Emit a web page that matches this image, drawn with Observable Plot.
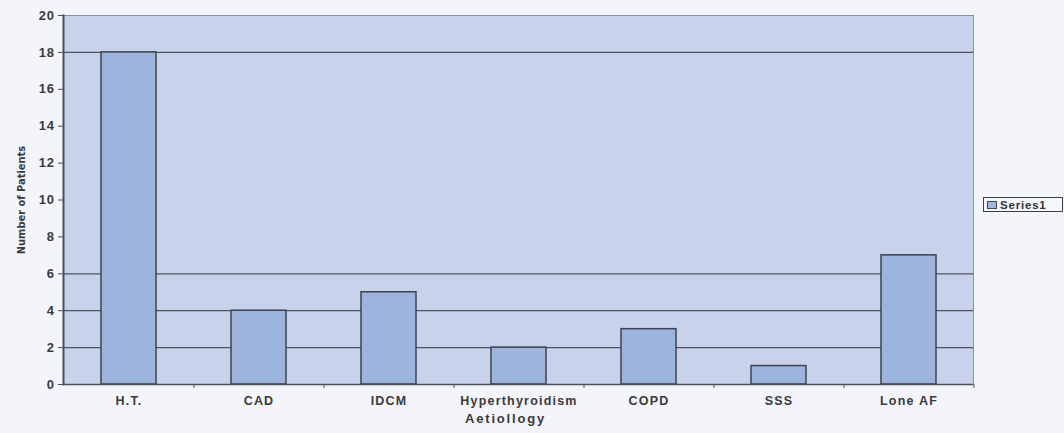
<!DOCTYPE html>
<html>
<head>
<meta charset="utf-8">
<script src="https://cdn.jsdelivr.net/npm/d3@7"></script>
<script src="https://cdn.jsdelivr.net/npm/@observablehq/plot@0.6"></script>
<style>
  html, body { margin: 0; padding: 0; background: #f3f5fa; }
  #wrap { position: relative; width: 1064px; height: 433px; }
  #legend {
    position: absolute; left: 983px; top: 197px; width: 75px; height: 13px;
    border: 1px solid #3a3f48; background: #f6f7fb;
    font: bold 11.5px "Liberation Sans", Arial, sans-serif; letter-spacing: 0.8px; color: #333;
    display: flex; align-items: center; gap: 3px; padding-left: 3px; box-sizing: content-box;
  }
  #legend .sw { width: 8px; height: 6px; background: #9fb5dc; border: 1px solid #3f4754; }
</style>
</head>
<body>
<div id="wrap"></div>
<script>
const categories = ["H.T.", "CAD", "IDCM", "Hyperthyroidism", "COPD", "SSS", "Lone AF"];
const patients = [18, 4, 5, 2, 3, 1, 7];
const yTicks = [0, 2, 4, 6, 8, 10, 12, 14, 16, 18, 20];
const gridValues = [2, 4, 6, 18];
const seriesName = "Series1";

const rows = categories.map((c, i) => ({category: c, value: patients[i]}));

const chart = Plot.plot({
  width: 1064,
  height: 433,
  marginLeft: 63,
  marginRight: 91,
  marginTop: 15,
  marginBottom: 49,
  style: {background: "transparent", color: "#3a3a3a", fontFamily: "'Liberation Sans', Arial, sans-serif"},
  x: {domain: categories, paddingInner: 0.58, paddingOuter: 0.29, label: null},
  y: {domain: [0, 20], label: null},
  marks: [
    Plot.frame({fill: "#c8d2ea", stroke: "#8a90a0"}),
    Plot.ruleY(gridValues, {stroke: "#4f5560", strokeWidth: 1.2}),
    Plot.barY(rows, {x: "category", y: "value", fill: "#9db4dc", stroke: "#3c4350", strokeWidth: 1.5}),
    Plot.ruleY([0], {stroke: "#4a505c", strokeWidth: 1.5}),
    Plot.frame({anchor: "left", stroke: "#4a505c", strokeWidth: 2}),
    Plot.axisY({ticks: yTicks, tickSize: 5, tickPadding: 4, fontSize: 13, fontWeight: "bold", stroke: "#4a505c",
      label: "Number of Patients", labelAnchor: "center", labelArrow: "none", labelOffset: 46,
      fontFamily: "'Liberation Sans', Arial, sans-serif"}),
    Plot.axisX({tickSize: 4, tickFormat: () => "", dx: 65, stroke: "#4a505c"}),
    Plot.axisX({tickSize: 0, tickPadding: 12, fontSize: 12.5, fontWeight: "bold", label: "Aetiollogy",
      labelAnchor: "center", labelArrow: "none", labelOffset: 38})
  ]
});

chart.querySelectorAll("g[aria-label='y-axis tick label'] text").forEach(t => {
  t.style.letterSpacing = "0.6px";
});
chart.querySelectorAll("g[aria-label='x-axis tick label'] text").forEach(t => {
  t.style.letterSpacing = "1.2px";
});
chart.querySelectorAll("g[aria-label='y-axis label'] text").forEach(t => {
  t.setAttribute("font-family", "'Liberation Sans Narrow', 'DejaVu Sans Condensed', Arial, sans-serif");
  t.setAttribute("font-weight", "bold");
  t.setAttribute("font-size", "11");
});
chart.querySelectorAll("g[aria-label='x-axis label'] text").forEach(t => {
  t.setAttribute("font-weight", "bold");
  t.setAttribute("font-size", "13");
  t.setAttribute("dx", "-13");
  t.style.letterSpacing = "1.8px";
});

const wrap = document.getElementById("wrap");
wrap.appendChild(chart);
const legend = document.createElement("div");
legend.id = "legend";
legend.innerHTML = `<span class="sw"></span><span>${seriesName}</span>`;
wrap.appendChild(legend);
</script>
</body>
</html>
